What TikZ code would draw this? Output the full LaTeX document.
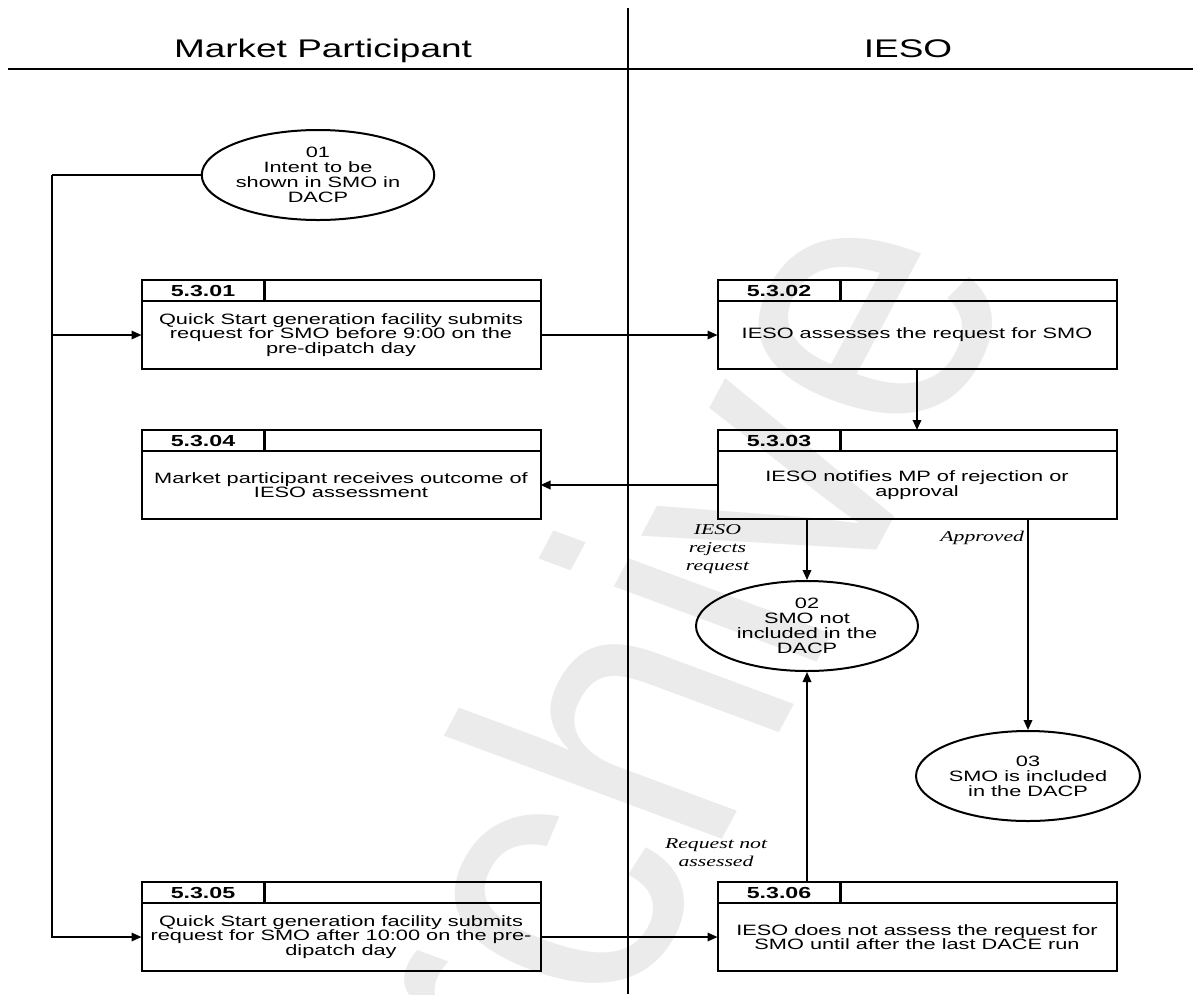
\documentclass[tikz,border=0pt]{standalone}
\usepackage{fontspec}
\setmainfont{Liberation Sans}[FakeStretch=1.45]
\newfontfamily\notefont{Liberation Serif}[FakeStretch=1.45]
\newfontfamily\markfont{Liberation Sans}
\usetikzlibrary{positioning, arrows.meta, shapes.geometric}

\tikzset{
    lane/.style={line width=1.5pt},
    lanehead/.style={font=\fontsize{25.5}{30}\selectfont, anchor=base},
    task/.style={draw, line width=2pt, minimum width=399pt, minimum height=68pt,
        inner sep=0pt, outer sep=0pt, align=center, font=\fontsize{15}{14.5}\selectfont},
    tasknum/.style={draw, line width=2pt, minimum width=123pt, minimum height=21pt,
        inner sep=0pt, outer sep=0pt, font=\bfseries\fontsize{16}{16}\selectfont},
    taskrest/.style={draw, line width=2pt, minimum width=276pt, minimum height=21pt,
        inner sep=0pt, outer sep=0pt},
    event/.style={ellipse, draw, line width=2pt, minimum width=222pt, minimum height=90pt,
        inner sep=0pt, align=center, font=\fontsize{15}{15}\selectfont},
    flow/.style={-{Triangle[length=10pt,width=8.5pt]}, line width=1.8pt},
    note/.style={font=\notefont\itshape\fontsize{15}{18}\selectfont, align=center, inner sep=0pt}
}

\begin{document}
\begin{tikzpicture}[x=1pt, y=-1pt]
\useasboundingbox (0,0) rectangle (1193,994);

\begin{scope}[xscale=1.2]
\node[rotate=66, transform shape, text=black!8, font=\markfont\fontsize{350}{350}\selectfont] (mark) at (501.7,757) {Archive};
\end{scope}

\draw[lane] (8,69) -- (1193,69);
\draw[lane] (628,8) -- (628,994);
\node[lanehead] (mp) at (323,57) {Market Participant};
\node[lanehead] (ieso) at (908,57) {IESO};

\node[event] (e01) at (318,175) {01\\Intent to be\\shown in SMO in\\DACP};
\node[event] (e02) at (807,626) {02\\SMO not\\included in the\\DACP};
\node[event] (e03) at (1028,776) {03\\SMO is included\\in the DACP};

\node[task] (t01) at (341,335) {Quick Start generation facility submits\\request for SMO before 9:00 on the\\pre-dipatch day};
\node[task] (t02) at (917,335) {IESO assesses the request for SMO};
\node[task] (t03) at (917,485) {IESO notifies MP of rejection or\\approval};
\node[task] (t04) at (341,485) {Market participant receives outcome of\\IESO assessment};
\node[task] (t05) at (341,937) {Quick Start generation facility submits\\request for SMO after 10:00 on the pre-\\dipatch day};
\node[task] (t06) at (917,937) {IESO does not assess the request for\\SMO until after the last DACE run};

\foreach \t/\n in {01/5.3.01, 02/5.3.02, 03/5.3.03, 04/5.3.04, 05/5.3.05, 06/5.3.06}{
    \node[tasknum, above right=0pt of t\t.north west] (n\t) {\n};
    \node[taskrest, right=0pt of n\t] (r\t) {};
    \draw[line width=3pt] (n\t.north east) -- (n\t.south east);
}

\coordinate (trunk) at (52,175);
\draw[line width=1.8pt] (e01.west) -- (trunk);
\draw[flow] (trunk) |- (t05.west);

\path[flow]
(trunk |- t01.west) edge (t01.west)
(t01.east) edge (t02.west)
(t02.south) edge (t02.south |- r03.north)
(t03.west) edge (t04.east)
(t03.south -| e02.north) edge node [note, left=57pt] {IESO\\rejects\\request} (e02.north)
(t03.south -| e03.north) edge node [note, pos=0.09, left=3pt] {Approved} (e03.north)
(e02.south |- n06.north) edge node [note, pos=0.142, left=39pt] {Request not\\assessed} (e02.south)
(t05.east) edge (t06.west);
\end{tikzpicture}
\end{document}
